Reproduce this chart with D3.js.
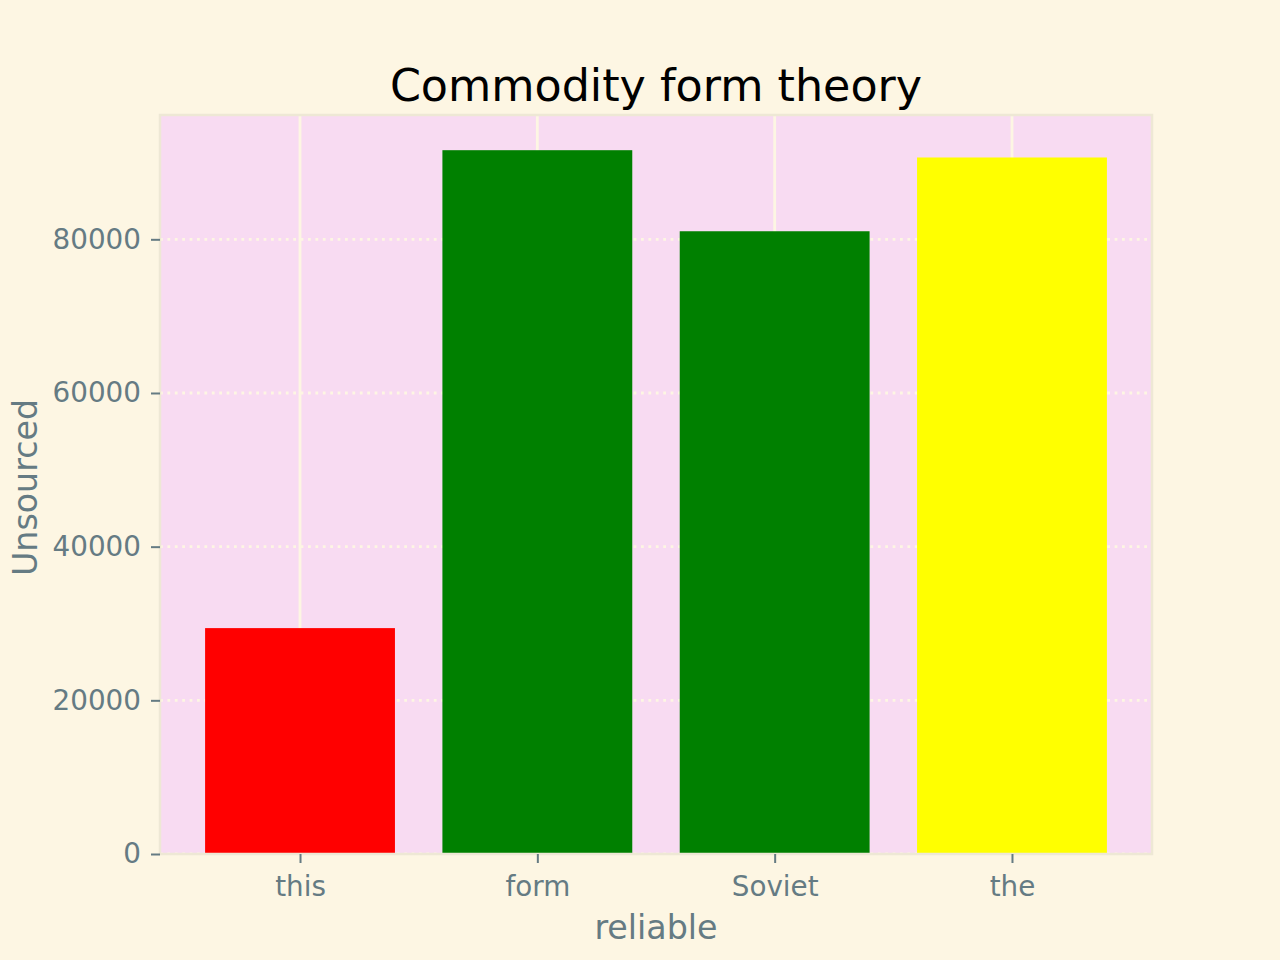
<!DOCTYPE html>
<html>
<head>
<meta charset="utf-8">
<script src="https://cdn.jsdelivr.net/npm/d3@7"></script>
<style>
  html, body { margin: 0; padding: 0; background: #FDF6E3; }
  svg { display: block; }
  text { font-family: "DejaVu Sans", sans-serif; }
</style>
</head>
<body>
<svg id="chart" width="1280" height="960"></svg>
<script>
const categories = ["this", "form", "Soviet", "the"];
const values = [29400, 91600, 81050, 90650];
const barColors = ["#ff0000", "#008000", "#008000", "#ffff00"];
const yTicks = [0, 20000, 40000, 60000, 80000];
const titleText = "Commodity form theory";
const xLabel = "reliable";
const yLabel = "Unsourced";

const W = 1280, H = 960;
const m = { left: 160, right: 1152, top: 115, bottom: 854 };

const svg = d3.select("#chart");
svg.append("rect").attr("width", W).attr("height", H).attr("fill", "#FDF6E3");

const pad = 0.19;
const x = d3.scaleLinear().domain([-0.4 - pad, categories.length - 1 + 0.4 + pad]).range([m.left, m.right]);
const yMax = d3.max(values) * 1.05;
const y = d3.scaleLinear().domain([0, yMax]).range([m.bottom, m.top]);

// axes background
svg.append("rect")
  .attr("x", m.left).attr("y", m.top)
  .attr("width", m.right - m.left).attr("height", m.bottom - m.top)
  .attr("fill", "#F8DBF2");

// grid
const gridColor = "#FDF6E3";
svg.append("g").selectAll("line").data(categories).join("line")
  .attr("x1", (d, i) => x(i)).attr("x2", (d, i) => x(i))
  .attr("y1", m.top).attr("y2", m.bottom)
  .attr("stroke", gridColor).attr("stroke-width", 2.8);
svg.append("g").selectAll("line").data(yTicks).join("line")
  .attr("x1", m.left).attr("x2", m.right)
  .attr("y1", d => y(d)).attr("y2", d => y(d))
  .attr("stroke", gridColor).attr("stroke-width", 2.8)
  .attr("stroke-dasharray", "2.8,4.6");

// bars
const bw = 0.8;
svg.append("g").selectAll("rect").data(values).join("rect")
  .attr("x", (d, i) => x(i - bw / 2))
  .attr("width", (d, i) => x(i + bw / 2) - x(i - bw / 2))
  .attr("y", d => y(d))
  .attr("height", d => y(0) - y(d))
  .attr("fill", (d, i) => barColors[i]);

// spines (axes edge)
svg.append("rect")
  .attr("x", m.left).attr("y", m.top)
  .attr("width", m.right - m.left).attr("height", m.bottom - m.top)
  .attr("fill", "none").attr("stroke", "#EEE8D5").attr("stroke-width", 2.5);

const tickColor = "#657B83";
// x axis
const xAxis = d3.axisBottom(x).tickValues(d3.range(categories.length))
  .tickFormat(i => categories[i]).tickSize(9).tickPadding(13);
const gx = svg.append("g").attr("transform", `translate(0,${m.bottom})`).call(xAxis);
gx.select(".domain").remove();
gx.selectAll(".tick line").attr("stroke", tickColor).attr("stroke-width", 2);
gx.selectAll(".tick text").attr("fill", tickColor).attr("font-size", 27.8)
  .attr("font-family", "DejaVu Sans");

// y axis
const yAxis = d3.axisLeft(y).tickValues(yTicks).tickFormat(d => String(d))
  .tickSize(9).tickPadding(10);
const gy = svg.append("g").attr("transform", `translate(${m.left},0)`).call(yAxis);
gy.select(".domain").remove();
gy.selectAll(".tick line").attr("stroke", tickColor).attr("stroke-width", 2);
gy.selectAll(".tick text").attr("fill", tickColor).attr("font-size", 27.8)
  .attr("font-family", "DejaVu Sans");

// title
svg.append("text").attr("x", (m.left + m.right) / 2).attr("y", 101)
  .attr("text-anchor", "middle").attr("font-size", 44.4).attr("fill", "#000000")
  .text(titleText);

// axis labels
svg.append("text").attr("x", (m.left + m.right) / 2).attr("y", 939)
  .attr("text-anchor", "middle").attr("font-size", 33.3).attr("fill", tickColor)
  .text(xLabel);
svg.append("text")
  .attr("transform", `translate(37,${(m.top + m.bottom) / 2 + 3}) rotate(-90)`)
  .attr("text-anchor", "middle").attr("font-size", 33.3).attr("fill", tickColor)
  .text(yLabel);
</script>
</body>
</html>
